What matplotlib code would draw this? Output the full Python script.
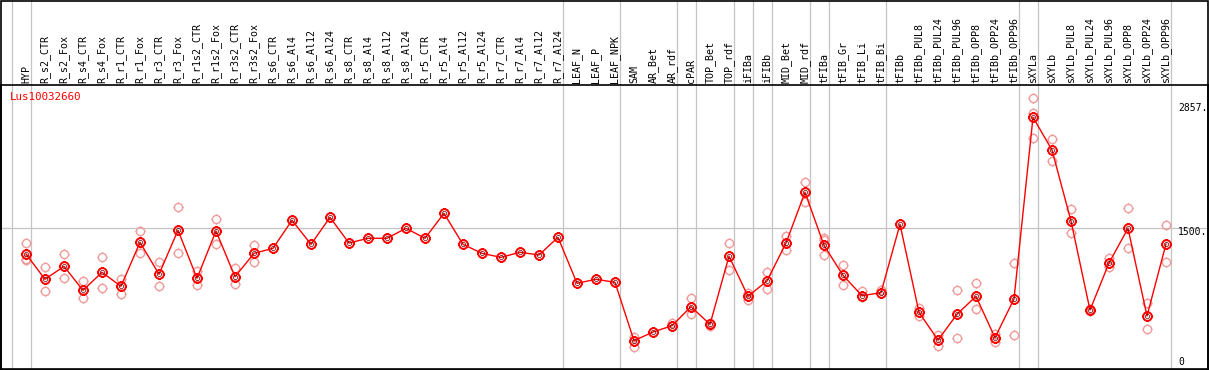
import matplotlib
matplotlib.use("Agg")
import matplotlib.pyplot as plt
import numpy as np
from matplotlib.path import Path
from matplotlib.patches import Rectangle
from matplotlib.transforms import blended_transform_factory

title = "Lus10032660"

categories = [
    "HYP", "R_s2_CTR", "R_s2_Fox", "R_s4_CTR", "R_s4_Fox", "R_r1_CTR", "R_r1_Fox",
    "R_r3_CTR", "R_r3_Fox", "R_r1s2_CTR", "R_r1s2_Fox", "R_r3s2_CTR", "R_r3s2_Fox",
    "R_s6_CTR", "R_s6_Al4", "R_s6_Al12", "R_s6_Al24", "R_s8_CTR", "R_s8_Al4",
    "R_s8_Al12", "R_s8_Al24", "R_r5_CTR", "R_r5_Al4", "R_r5_Al12", "R_r5_Al24",
    "R_r7_CTR", "R_r7_Al4", "R_r7_Al12", "R_r7_Al24", "LEAF_N", "LEAF_P", "LEAF_NPK",
    "SAM", "AR_Bet", "AR_rdf", "cPAR", "TOP_Bet", "TOP_rdf", "iFIBa", "iFIBb",
    "MID_Bet", "MID_rdf", "tFIBa", "tFIB_Gr", "tFIB_Li", "tFIB_Bi", "tFIBb",
    "tFIBb_PUL8", "tFIBb_PUL24", "tFIBb_PUL96", "tFIBb_OPP8", "tFIBb_OPP24", "tFIBb_OPP96",
    "sXYLa", "sXYLb", "sXYLb_PUL8", "sXYLb_PUL24", "sXYLb_PUL96", "sXYLb_OPP8",
    "sXYLb_OPP24", "sXYLb_OPP96",
]

means = [
    1186, 877, 1035, 742, 962, 791, 1329, 938, 1476, 889, 1467, 908, 1194,
    1255, 1598, 1304, 1634, 1320, 1378, 1378, 1500, 1378, 1683, 1304, 1194,
    1145, 1207, 1174, 1390, 828, 877, 840,
    126, 232, 309, 542, 326, 1159, 669, 856, 1320, 1940, 1292, 925, 676, 713, 1549,
    473, 134, 449, 669, 163, 636,
    2857, 2457, 1589, 501, 1076, 1500, 428, 1308,
]

replicates = [
    [1317, 1129, 1112], [1023, 737], [1186, 889], [856, 644], [1145, 767], [880, 693],
    [1467, 1194], [1084, 791], [1757, 1194], [982, 803], [1610, 1304], [1011, 815],
    [1292, 1084],
    [], [], [], [], [], [], [], [], [], [], [], [], [], [], [], [], [], [], [],
    [167, 53], [], [339, 302], [644, 449], [346, 306], [1317, 990], [705, 623],
    [966, 754], [1406, 1238], [2062, 1818], [1381, 1357, 1170], [1048, 807],
    [737, 664], [746], [],
    [522, 432], [196, 65], [746, 159], [831, 510], [208, 106], [1076, 192],
    [3089, 2913, 2600], [2588, 2319], [1736, 1443], [510, 489], [1141, 1023],
    [1748, 1255], [583, 269], [1540, 1084],
]

group_ends = [-1, 0, 28, 31, 34, 35, 37, 38, 39, 41, 42, 45, 52, 53, 60]
axis_labels = ["2857.", "1500.", "0"]
grid_value = 1500

W, H = 1209, 370
fig = plt.figure(figsize=(W / 100, H / 100), dpi=100)
ax_l, ax_r, ax_t, ax_b = 1, 1208, 85, 369
ax = fig.add_axes([ax_l / W, (H - ax_b) / H, (ax_r - ax_l) / W, (ax_b - ax_t) / H])

step = 19.0
x0pix = 26.0
xmin = -(x0pix - ax_l) / step
xmax = xmin + (ax_r - ax_l) / step
ax.set_xlim(xmin, xmax)
ax.set_ylim(-220, 3252)
ax.set_xticks([])
ax.set_yticks([])
for s in ax.spines.values():
    s.set_color("black")
    s.set_linewidth(1.2)

grey = "#c4c4c4"
ext = 1 + (ax_t - 0) / (ax_b - ax_t)
for g in group_ends:
    ax.axvline(g + 0.25, ymin=0, ymax=ext, color=grey, lw=0.9, clip_on=False, zorder=1)
ax.axhline(grid_value, color=grey, lw=0.9, zorder=1)

# circle marker with small ticks
circ = Path.unit_circle()
ticks = []
codes = []
for ang in [0, np.pi / 2, np.pi, 3 * np.pi / 2]:
    c, s_ = np.cos(ang), np.sin(ang)
    ticks += [(c * 1.0, s_ * 1.0), (c * 1.22, s_ * 1.22)]
    codes += [Path.MOVETO, Path.LINETO]
gear = Path.make_compound_path(circ, Path(ticks, codes))

x = np.arange(len(categories))
rx, ry = [], []
for i, reps in enumerate(replicates):
    for r in reps:
        rx.append(i)
        ry.append(r)
ax.plot(rx, ry, linestyle="none", marker=gear, ms=7.2, mfc="none", mec="#f09a9a", mew=1.0, zorder=2)
ax.plot(x, means, color="#ff0000", lw=1.0, zorder=3)
ax.plot(x, means, linestyle="none", marker=gear, ms=7.6, mfc="none", mec="#ff0000", mew=1.4, zorder=4)
ax.plot(x, means, linestyle="none", marker="o", ms=3.0, mfc="none", mec="#600000", mew=0.5, zorder=5)

mono = "DejaVu Sans Mono"
trans = blended_transform_factory(ax.transData, ax.transAxes)
lab_y = 1 + 2 / (ax_b - ax_t)
for i, c in enumerate(categories):
    ax.text(i, lab_y, c, rotation=90, ha="center", va="bottom", fontsize=7.2,
            family=mono, transform=trans, clip_on=False)

fig.text(10 / W, 1 - 97 / H, title, color="#ff0000", fontsize=7.8, family=mono,
         ha="left", va="center")

for lab, ypix in zip(axis_labels, [107.7, 232, 361.7]):
    fig.text(1178 / W, 1 - ypix / H, lab, fontsize=7, family=mono, ha="left", va="center")

fig.add_artist(Rectangle((0.5 / W, 0.5 / H), (W - 1.5) / W, (H - 1.5) / H, transform=fig.transFigure,
                         fill=False, edgecolor="black", lw=1.2))

fig.savefig("out.png", dpi=100)
